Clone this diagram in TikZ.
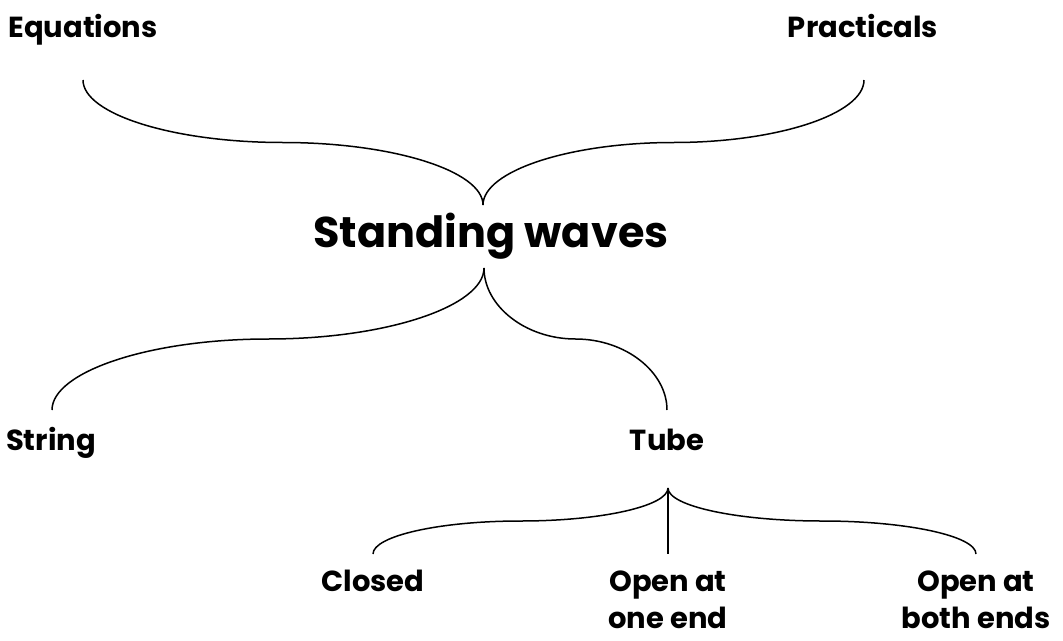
\documentclass[tikz,border=0pt]{standalone}
\usepackage{fontspec}
\setmainfont{Poppins}
\usetikzlibrary{calc,positioning}

\tikzset{
    label/.style={inner sep=0pt, anchor=base, font=\fontsize{29}{37}\selectfont\bfseries, align=center},
    title/.style={inner sep=0pt, anchor=base, font=\fontsize{43}{54}\selectfont\bfseries},
    brace/.style={black, line width=1.5pt}
}

\begin{document}
\begin{tikzpicture}[x=1pt,y=-1pt]
            \useasboundingbox (0,0) rectangle (1063,640);
            % labels
            \node [label] (eq) at (83,37) {Equations};
            \node [label] (pr) at (863,37) {Practicals};
            \node [title] (sw) at (491,247) {Standing waves};
            \node [label] (str) at (51,450) {String};
            \node [label] (tube) at (667,450) {Tube};
            \node [label] (cl) at (373,591) {Closed};
            \node [label, text depth=0pt] (one) at (668,628) {Open at\\one end};
            \node [label, text depth=0pt] (both) at (976,628) {Open at\\both ends};
            % brace points
            \coordinate (topTip) at (483,205);
            \coordinate (eqEnd) at (83,80);
            \coordinate (prEnd) at (864,80);
            \coordinate (midTip) at (484,268);
            \coordinate (strEnd) at (52,410);
            \coordinate (tubeEnd) at (667,410);
            \coordinate (lowTip) at (668,488);
            \coordinate (clEnd) at (373,554);
            \coordinate (oneEnd) at (668,554);
            \coordinate (bothEnd) at (976,554);
            % top brace
            \draw[brace] (eqEnd) .. controls +(0,34) and +(-110,0) .. ($(eqEnd)!0.5!(topTip)$)
                .. controls +(110,0) and +(0,-34) .. (topTip);
            \draw[brace] (prEnd) .. controls +(0,34) and +(104,0) .. ($(prEnd)!0.5!(topTip)$)
                .. controls +(-104,0) and +(0,-34) .. (topTip);
            % middle brace
            \draw[brace] (strEnd) .. controls +(0,-38) and +(-119,0) .. ($(strEnd)!0.5!(midTip)$)
                .. controls +(119,0) and +(0,38) .. (midTip);
            \draw[brace] (tubeEnd) .. controls +(0,-38) and +(50,0) .. ($(tubeEnd)!0.5!(midTip)$)
                .. controls +(-50,0) and +(0,38) .. (midTip);
            % bottom brace
            \draw[brace] (clEnd) .. controls +(0,-18) and +(-81,0) .. ($(clEnd)!0.5!(lowTip)$)
                .. controls +(81,0) and +(0,18) .. (lowTip);
            \draw[brace] (bothEnd) .. controls +(0,-18) and +(85,0) .. ($(bothEnd)!0.5!(lowTip)$)
                .. controls +(-85,0) and +(0,18) .. (lowTip);
            \draw[brace] (lowTip) -- (oneEnd);
\end{tikzpicture}
\end{document}
